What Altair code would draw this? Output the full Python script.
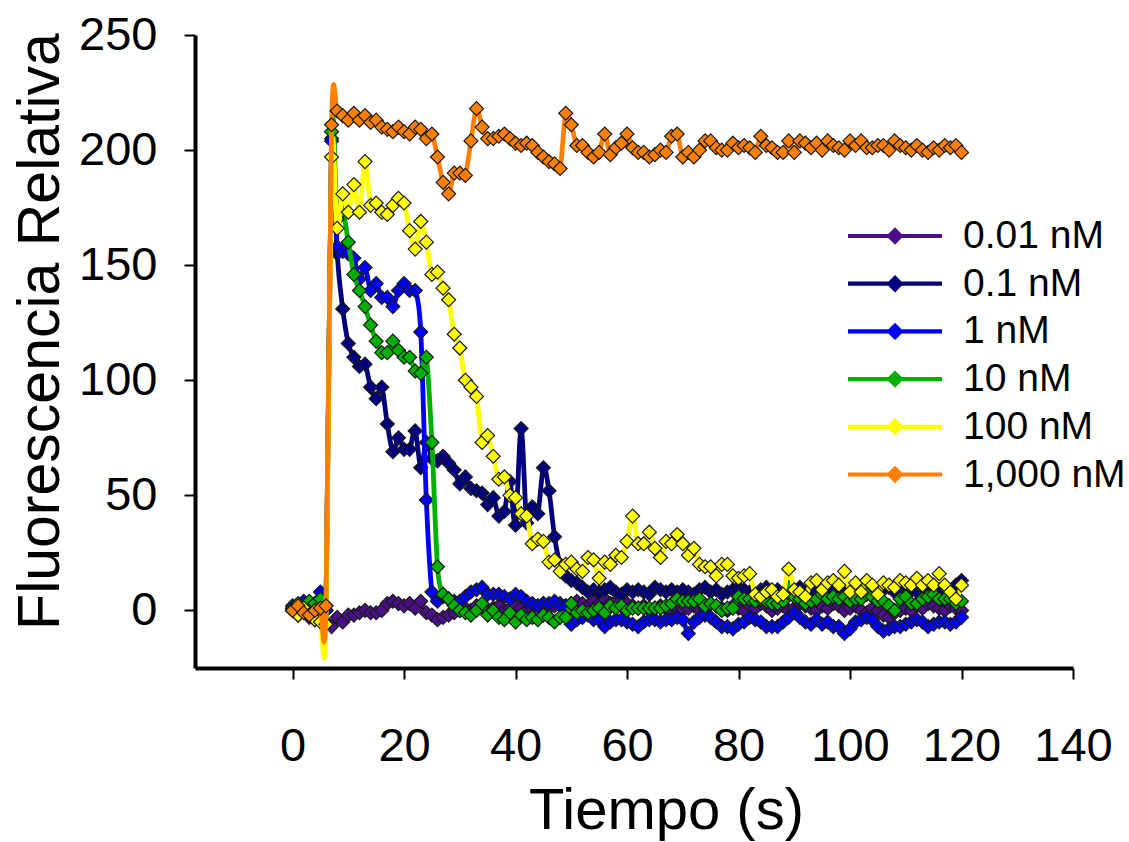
import altair as alt
import pandas as pd

# ---------------- data ----------------
TIME = list(range(0, 121))  # seconds

SERIES = ["0.01 nM", "0.1 nM", "1 nM", "10 nM", "100 nM", "1,000 nM"]
COLORS = ["#4B0F8C", "#000080", "#0000FF", "#00B000", "#FFFF00", "#FF8000"]

P001 = [
    0, -2, 1, -3, -4, -2, -5, -7, -3, -5,
    -2, -2, -1, 0, -1, -1, 0, 3, 4, 3,
    2, 3, 1, 4, -1, -2, -4, -3, -2, -1,
    0, 1, 0, 2, 1, 0, 1, 2, 0, 1,
    2, 1, 0, 1, 2, 3, 1, 2, 3, 2,
    3, 4, 3, 2, 4, 3, 5, 3, 4, 2,
    3, 2, 1, 2, 0, 1, 2, 1, 0, 1,
    0, 1, 2, 0, 1, 3, 2, 1, 0, 2,
    1, 0, 2, 1, 3, 2, 0, 1, 2, 0,
    1, 3, 2, 1, 0, 2, 1, 3, 2, 0,
    1, 2, 0, -1, 1, 0, -2, -3, -1, 0,
    1, 0, 2, 1, 3, 2, 1, 0, 2, 1,
    0,
]

P01 = [
    1, -1, 2, 0, 1, 3, 0, 205, 155, 131,
    116, 110, 106, 107, 97, 92, 97, 81, 69, 75,
    70, 70, 78, 62, 73, 66, 65, 67, 64, 61,
    55, 58, 53, 52, 51, 46, 49, 41, 43, 56,
    37, 79, 38, 45, 42, 62, 52, 32, 20, 15,
    13, 12, 10, 8, 9, 8, 9, 10, 8, 7,
    9, 8, 9, 8, 7, 10, 9, 8, 9, 8,
    9, 8, 7, 9, 10, 8, 9, 7, 8, 9,
    10, 9, 8, 7, 9, 10, 8, 9, 7, 8,
    9, 10, 8, 7, 9, 8, 10, 9, 8, 7,
    9, 8, 10, 9, 7, 8, 9, 10, 8, 9,
    7, 9, 8, 10, 9, 8, 9, 7, 8, 11,
    13,
]

P1 = [
    2, 0, 4, 1, 3, 8, 0, 204, 158, 156,
    155, 153, 144, 149, 139, 142, 136, 136, 132, 139,
    142, 139, 139, 121, 48, 8, 4, 6, 5, 4,
    4, 6, 8, 9, 10, 7, 7, 7, 6, 5,
    7, 6, 4, 3, 2, 3, 3, 4, 2, 2,
    -6, -4, -3, -2, -4, -4, -7, -5, -4, -4,
    -5, -6, -7, -5, -4, -4, -5, -4, -4, -3,
    -4, -10, -5, -3, -2, -3, -5, -7, -7, -8,
    -6, -5, -3, -4, -5, -7, -7, -7, -5, -3,
    -1, -3, -5, -6, -4, -6, -5, -7, -7, -10,
    -8, -5, -4, -3, -4, -7, -9, -8, -7, -7,
    -6, -5, -4, -5, -7, -6, -5, -5, -6, -5,
    -3,
]

P10 = [
    1, 3, 2, 4, 3, 5, 2, 208, 170, 174,
    160, 146, 139, 132, 124, 117, 112, 112, 117, 113,
    110, 110, 104, 103, 110, 73, 19, 7, 5, 2,
    0, -1, -2, 0, 3, -2, 0, -3, -4, -1,
    -5, -2, -4, -3, -4, -2, -3, -5, -3, -3,
    3, -1, 0, -1, 0, 1, -1, 2, 1, 2,
    0, 1, 1, 1, 1, 1, 1, 2, 3, 5,
    4, 4, 4, 5, 2, 3, 2, 0, 1, 1,
    6, 5, 5, 4, 5, 4, 3, 3, 4, 10,
    6, 5, 3, 4, 5, 7, 5, 6, 5, 6,
    4, 5, 5, 7, 6, 4, 4, 2, 0, 5,
    6, 3, 3, 5, 6, 7, 5, 5, 5, 3,
    4,
]

P100 = [
    0, -2, 1, -2, -4, -5, -6, 197, 166, 181,
    173, 185, 173, 195, 176, 177, 173, 172, 176, 179,
    177, 165, 157, 169, 160, 146, 147, 140, 135, 120,
    114, 100, 97, 93, 73, 76, 67, 57, 58, 50,
    49, 42, 41, 29, 31, 30, 21, 22, 17, 20,
    21, 18, 17, 23, 22, 14, 21, 20, 24, 23,
    30, 41, 29, 29, 34, 27, 23, 30, 29, 33,
    29, 24, 27, 20, 19, 19, 15, 20, 20, 15,
    14, 15, 16, 7, 6, 8, 9, 6, 7, 18,
    9, 8, 6, 12, 13, 9, 12, 13, 11, 17,
    8, 12, 8, 13, 11, 7, 12, 11, 10, 13,
    12, 11, 14, 11, 13, 11, 16, 11, 8, 5,
    11,
]

P1000 = [
    0, 2, -1, -2, 0, 1, 2, 211, 217, 215,
    213, 216, 213, 215, 212, 213, 210, 209, 208, 210,
    208, 207, 210, 209, 205, 207, 197, 186, 181, 190,
    190, 189, 204, 218, 210, 205, 205, 206, 207, 205,
    203, 202, 203, 202, 199, 197, 195, 194, 192, 216,
    211, 202, 202, 199, 197, 199, 207, 198, 201, 203,
    207, 201, 199, 199, 197, 198, 200, 199, 206, 207,
    197, 199, 197, 200, 204, 204, 201, 200, 200, 203,
    201, 202, 201, 199, 206, 202, 201, 199, 199, 204,
    199, 204, 203, 201, 203, 200, 204, 202, 201, 200,
    204, 202, 204, 201, 201, 202, 202, 200, 204, 202,
    201, 200, 202, 200, 199, 201, 200, 202, 201, 202,
    199,
]

VALUES = [P001, P01, P1, P10, P100, P1000]

X_TICKS = [0, 20, 40, 60, 80, 100, 120, 140]
Y_TICKS = [0, 50, 100, 150, 200, 250]

# ---------------- table ----------------
rows = []
for name, vals in zip(SERIES, VALUES):
    assert len(vals) == len(TIME), (name, len(vals))
    for t, v in zip(TIME, vals):
        rows.append({"t": t, "v": v, "s": name})
df = pd.DataFrame(rows)

FONT = "Liberation Sans"

x_enc = alt.X(
    "t:Q",
    scale=alt.Scale(domain=[-17.5, 140], nice=False, zero=False),
    axis=alt.Axis(
        values=X_TICKS, title="Tiempo (s)", grid=False,
        labelOverlap=False, labelBound=False, labelFlush=False,
        domainColor="black", domainWidth=4, tickColor="black", tickWidth=2, tickSize=11,
        labelFont=FONT, labelFontSize=47, labelColor="black", labelPadding=44,
        titleFont=FONT, titleFontSize=58, titleFontWeight="normal", titleColor="black",
        titleX=471, titleY=160, titleBaseline="alphabetic", titleAlign="center",
    ),
)
y_enc = alt.Y(
    "v:Q",
    scale=alt.Scale(domain=[-25, 250], nice=False, zero=False),
    axis=alt.Axis(
        values=Y_TICKS, title="Fluorescencia Relativa", grid=False,
        labelOverlap=False, labelBound=False, labelFlush=False,
        domainColor="black", domainWidth=4, tickColor="black", tickWidth=2, tickSize=11,
        labelFont=FONT, labelFontSize=47, labelColor="black", labelPadding=27,
        titleFont=FONT, titleFontSize=59, titleFontWeight="normal", titleColor="black",
        titleX=-137, titleY=296, titleBaseline="alphabetic", titleAlign="center", titleAngle=270,
    ),
)

LEGEND_SYMBOL = (
    "M-2,-0.09L2,-0.09L2,0.09L-2,0.09Z"
    "M0,-0.37L0.37,0L0,0.37L-0.37,0Z"
)

color_enc = alt.Color(
    "s:N",
    scale=alt.Scale(domain=SERIES, range=COLORS),
    legend=alt.Legend(
        title=None, orient="none", legendX=676.5, legendY=177.5, direction="vertical",
        symbolType=LEGEND_SYMBOL, symbolSize=2209, symbolStrokeColor="transparent",
        symbolStrokeWidth=0, symbolOpacity=1,
        labelFont=FONT, labelFontSize=39, labelColor="black", labelOffset=44.5,
        labelLimit=400, rowPadding=3.7, padding=0,
    ),
)

layers = []
for name, col in zip(SERIES, COLORS):
    base = alt.Chart(df).transform_filter(alt.datum.s == name)
    layers.append(
        base.mark_line(color=col, strokeWidth=4.8, interpolate="cardinal", clip=True)
        .encode(x=x_enc, y=y_enc)
    )
    layers.append(
        base.mark_point(shape="diamond", filled=True, size=195, stroke="#1a1a1a",
                        strokeWidth=1.2, opacity=1, clip=True)
        .encode(x=x_enc, y=y_enc, color=color_enc)
    )

chart = (
    alt.layer(*layers)
    .properties(
        width=878, height=633,
        autosize=alt.AutoSizeParams(type="none"),
        padding={"left": 195, "top": 35, "right": 56, "bottom": 174},
        background="white",
    )
    .configure_view(stroke=None)
)

chart.save("out.html", embed_options={"renderer": "svg", "actions": False})
